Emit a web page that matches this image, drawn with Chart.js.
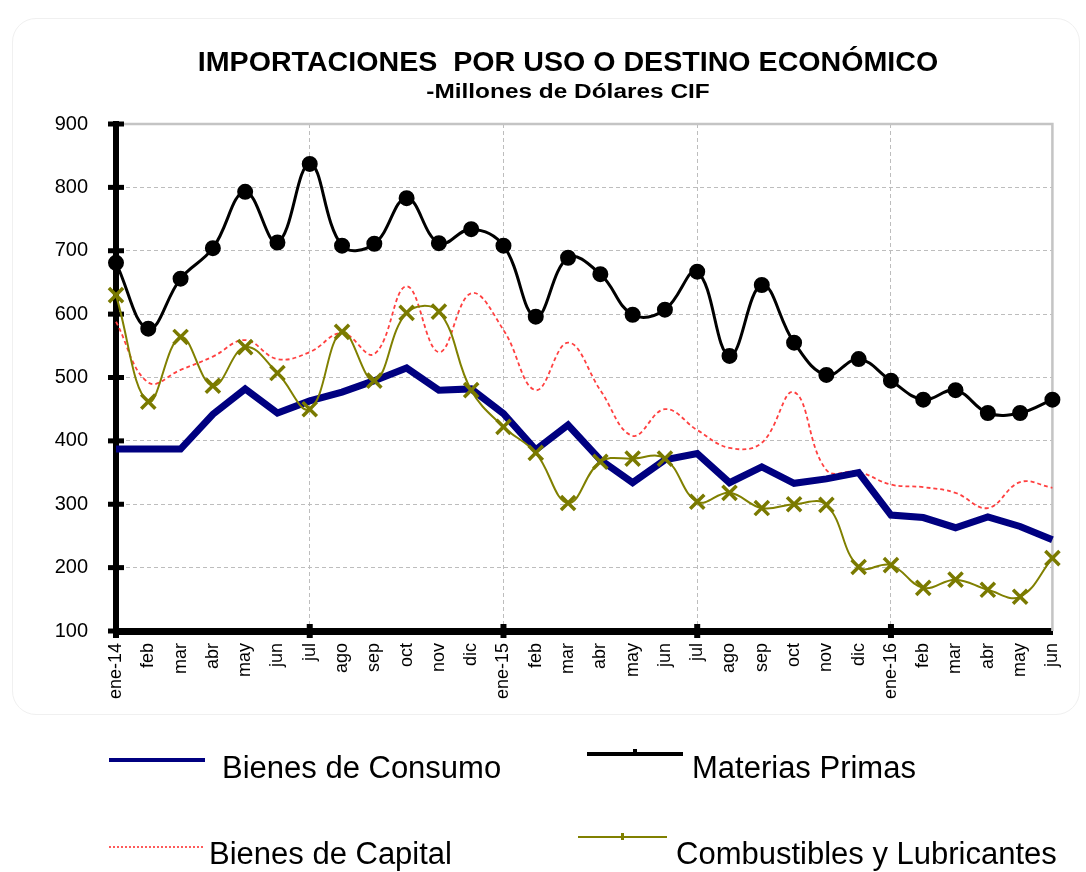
<!DOCTYPE html>
<html><head><meta charset="utf-8">
<script src="https://cdn.jsdelivr.net/npm/chart.js@4.4.0/dist/chart.umd.min.js"></script>
<style>
body{margin:0;background:#fff;font-family:'Liberation Sans',Arial,sans-serif;}
#wrap{position:relative;width:1086px;height:872px;overflow:hidden;background:#fff}
#frame{position:absolute;left:12px;top:18px;width:1066px;height:695px;border:1px solid #f0f0f0;border-radius:24px}
canvas{position:absolute;left:0;top:0}
.lg{position:absolute;font-size:31px;color:#000;line-height:1;white-space:nowrap}
.sw{position:absolute}
.tt{position:absolute;white-space:nowrap;font-weight:bold;line-height:1;color:#000}
</style></head>
<body>
<div id="wrap">
<div id="frame"></div>
<canvas id="c" width="1086" height="872"></canvas>
<div class="tt" style="left:568px;top:49px;font-size:27px;transform:translateX(-50%) scaleX(1.06)">IMPORTACIONES&nbsp; POR USO O DESTINO ECONÓMICO</div>
<div class="tt" style="left:568px;top:81px;font-size:20px;transform:translateX(-50%) scaleX(1.22)">-Millones de Dólares CIF</div>
<div class="sw" style="left:109px;top:758px;width:96px;height:4px;background:#000080"></div>
<div class="lg" style="left:222px;top:752px">Bienes de Consumo</div>
<div class="sw" style="left:587px;top:752px;width:96px;height:4px;background:#000"></div>
<div class="sw" style="left:633px;top:749px;width:4px;height:4px;background:#000"></div>
<div class="lg" style="left:692px;top:752px">Materias Primas</div>
<div class="sw" style="left:109px;top:846px;width:94px;height:0;border-top:2px dotted #ff5a5a"></div>
<div class="lg" style="left:209px;top:838px">Bienes de Capital</div>
<div class="sw" style="left:578px;top:836px;width:89px;height:2px;background:#808000"></div>
<div class="sw" style="left:621px;top:833px;width:3px;height:7px;background:#808000"></div>
<div class="lg" style="left:676px;top:838px">Combustibles y Lubricantes</div>
</div>
<script>
const labels = ['ene-14','feb','mar','abr','may','jun','jul','ago','sep','oct','nov','dic',
                'ene-15','feb','mar','abr','may','jun','jul','ago','sep','oct','nov','dic',
                'ene-16','feb','mar','abr','may','jun'];
const consumo = [387,387,387,442,482,444,463,477,495,515,480,482,443,386,425,370,334,370,380,334,359,333,340,350,283,279,263,280,265,244];
const materias = [681,577,656,704,793,713,837,708,711,783,712,734,708,596,689,663,599,607,667,534,646,555,504,529,495,465,480,444,444,465];
const capital = [588,492,512,533,559,529,540,570,537,644,540,633,575,480,555,480,408,450,417,389,397,477,354,351,331,327,318,294,335,326];
const combustibles = [630,462,564,487,548,507,450,572,495,602,604,480,422,381,302,367,372,372,304,318,294,300,299,201,204,168,181,165,154,215];
const yTicks = [100,200,300,400,500,600,700,800,900];

const FONT = "'Liberation Sans', Arial, sans-serif";

const axisDeco = {
  id: 'axisDeco',
  beforeDatasetsDraw(chart) {
    const {ctx, chartArea: a, scales} = chart;
    ctx.save();
    ctx.strokeStyle = '#c4c4c4';
    ctx.lineWidth = 2.5;
    ctx.beginPath();
    ctx.moveTo(a.left, a.top); ctx.lineTo(a.right, a.top); ctx.lineTo(a.right, a.bottom);
    ctx.stroke();
    ctx.fillStyle = '#000';
    yTicks.forEach(v => {
      const y = scales.y.getPixelForValue(v);
      ctx.fillRect(a.left - 8, y - 2.5, 16, 5);
    });
    labels.forEach((l, i) => {
      if (i % 6 === 0) {
        const x = scales.x.getPixelForValue(i);
        ctx.fillRect(x - 3, a.bottom - 7, 6, 14);
      }
    });
    ctx.restore();
  }
};

new Chart(document.getElementById('c'), {
  type: 'line',
  data: {
    labels: labels,
    datasets: [
      {label:'Materias Primas', data: materias, borderColor:'#000', backgroundColor:'#000', borderWidth:3,
       pointStyle:'circle', pointRadius:6.5, pointBackgroundColor:'#000', pointBorderColor:'#000', tension:0.4, order:1, clip:12},
      {label:'Combustibles y Lubricantes', data: combustibles, borderColor:'#808000', backgroundColor:'#808000', borderWidth:2,
       pointStyle:'crossRot', pointRadius:10, pointBorderWidth:3.5, pointBorderColor:'#7a7a00', tension:0.4, order:2, clip:12},
      {label:'Bienes de Consumo', data: consumo, borderColor:'#000080', backgroundColor:'#000080', borderWidth:7,
       pointRadius:0, tension:0, order:3, clip:12, borderJoinStyle:'miter'},
      {label:'Bienes de Capital', data: capital, borderColor:'#ff4040', backgroundColor:'#ff4040', borderWidth:1.8,
       borderDash:[4,3], pointRadius:0, tension:0.4, order:4, clip:12}
    ]
  },
  options: {
    responsive:false, animation:false,
    layout:{padding:{left:20, right:21, top:124, bottom:150}},
    plugins:{
      legend:{display:false},
      tooltip:{enabled:false},
      title:{display:false},
      subtitle:{display:false}
    },
    scales:{
      x:{
        offset:false,
        afterFit(s){ s.height = 91; },
        grid:{color:(c)=> (c.index % 6 === 0 ? '#bdbdbd' : 'rgba(0,0,0,0)'), lineWidth:1, drawTicks:false},
        border:{display:true, color:'#000', width:7, dash:[4,3]},
        ticks:{autoSkip:false, minRotation:90, maxRotation:90, padding:12, color:'#000',
               font:{family:FONT, size:18}}
      },
      y:{
        min:100, max:900,
        afterFit(s){ s.width = 96; },
        afterBuildTicks(s){ s.ticks = yTicks.map(v => ({value:v})); },
        grid:{color:'#bdbdbd', lineWidth:1, drawTicks:false},
        border:{display:true, color:'#000', width:6, dash:[4,3]},
        ticks:{padding:28, color:'#000', font:{family:FONT, size:20}}
      }
    }
  },
  plugins:[axisDeco]
});
</script>
</body></html>
